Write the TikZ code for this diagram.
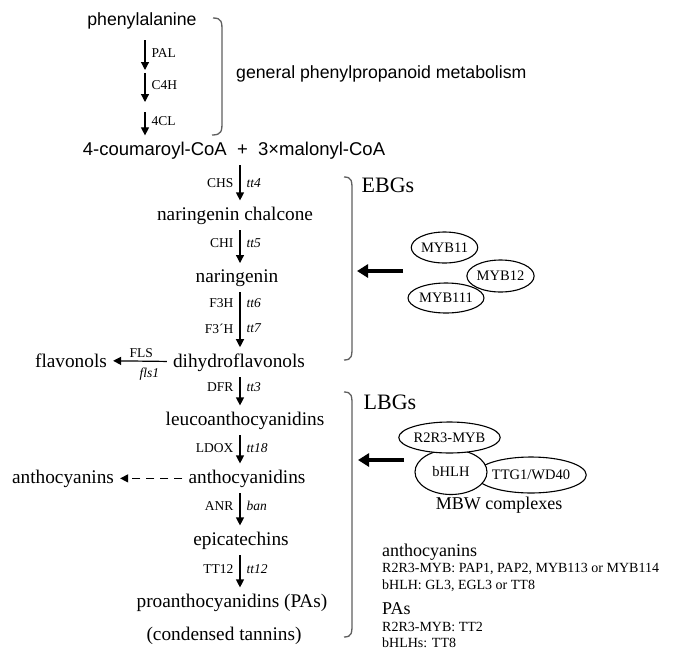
\documentclass[tikz,border=0pt]{standalone}
\usepackage{fontspec}
\setmainfont{Liberation Serif}
\setsansfont{Liberation Sans}
\usetikzlibrary{arrows.meta,shapes.geometric}
\definecolor{fp-gray}{RGB}{95,95,95}

\tikzset{
  met/.style={anchor=base, inner sep=6pt, font=\fontsize{19.3}{23}\selectfont},
  gen/.style={anchor=base, inner sep=6pt, font=\sffamily\fontsize{17.7}{21}\selectfont},
  enz/.style={left=4pt, inner sep=2pt, font=\fontsize{13.5}{16}\selectfont},
  gene/.style={right=4pt, inner sep=2pt, font=\itshape\fontsize{13.5}{16}\selectfont},
  flow/.style={-{Triangle[width=8pt,length=8pt]}, line width=1.2pt},
  tf/.style={ellipse, draw, line width=1.1pt, fill=white, inner sep=0pt, font=\fontsize{14.5}{17}\selectfont},
  reg/.style={-{Triangle[width=13pt,length=11pt]}, line width=4pt},
  brak/.style={fp-gray, line width=1.3pt},
  grp/.style={font=\fontsize{22}{26}\selectfont},
  note/.style={anchor=base west, inner sep=0pt, font=\fontsize{14}{16}\selectfont},
  notehead/.style={anchor=base west, inner sep=0pt, font=\fontsize{18}{21}\selectfont},
}

\begin{document}
\begin{tikzpicture}[x=1pt,y=-1pt]
    \useasboundingbox (0,0) rectangle (675,662);

    % general phenylpropanoid part
    \node[gen] (phe) at (142,25) {phenylalanine};
    \node[gen, anchor=base west] (gpm) at (230,78) {general phenylpropanoid metabolism};
    \node[gen, font=\sffamily\fontsize{18.5}{22}\selectfont] (cou) at (234,155) {4-coumaroyl-CoA \ + \ 3×malonyl-CoA};

    \coordinate (a1) at (145,40);
    \coordinate (a2) at (145,70);
    \coordinate (b1) at (145,73);
    \coordinate (b2) at (145,102);
    \coordinate (c1) at (145,112);
    \draw[flow] (a1) -- node[gene, font=\fontsize{13.5}{16}\selectfont, pos=.45] {PAL} (a2);
    \draw[flow] (b1) -- node[gene, font=\fontsize{13.5}{16}\selectfont, pos=.4] {C4H} (b2);
    \draw[flow] (c1) -- node[gene, font=\fontsize{13.5}{16}\selectfont, pos=.4] {4CL} (cou.north -| c1);

    \draw[brak] (213,18) .. controls (222,18) and (222,22) .. (222,32) -- (222,121) .. controls (222,131) and (222,135) .. (212,135);

    % flavonoid pathway
    \coordinate (col) at (240,0);
    \node[met] (nc) at (235,220) {naringenin chalcone};
    \node[met] (nar) at (237,282) {naringenin};
    \node[met] (dhf) at (239,367) {dihydroflavonols};
    \node[met] (flav) at (71,367) {flavonols};
    \node[met] (leu) at (245,425) {leucoanthocyanidins};
    \node[met] (anc) at (247,483) {anthocyanidins};
    \node[met] (ans) at (63,483) {anthocyanins};
    \node[met] (epi) at (241,545) {epicatechins};
    \node[met] (pas) at (232,607) {proanthocyanidins (PAs)};
    \node[met] (ct) at (224,640) {(condensed tannins)};

    \draw[flow] (cou.south -| col) -- node[enz] {CHS} node[gene] {tt4} (nc.north -| col);
    \draw[flow] (nc.south -| col) -- node[enz, pos=.4] {CHI} node[gene, pos=.4] {tt5} (nar.north -| col);
    \draw[flow] (nar.south -| col) -- node[enz, pos=.2] {F3H} node[gene, pos=.2] {tt6}
        node[enz, pos=.66] {F3´H} node[gene, pos=.66] {tt7} (dhf.north -| col);
    \draw[flow] (dhf) -- node[enz, above=1pt, pos=.4] {FLS} node[gene, below=4pt, pos=.4] {fls1} (flav);
    \draw[flow] (dhf.south -| col) -- node[enz, pos=.35] {DFR} node[gene, pos=.35] {tt3} (leu.north -| col);
    \draw[flow] (leu.south -| col) -- node[enz, pos=.45] {LDOX} node[gene, pos=.45] {tt18} (anc.north -| col);
    \draw[flow, dash pattern=on 8pt off 6pt] (anc) -- (ans);
    \draw[flow] (anc.south -| col) -- node[enz, pos=.4] {ANR} node[gene, pos=.4] {ban} (epi.north -| col);
    \draw[flow] (epi.south -| col) -- node[enz, pos=.42] {TT12} node[gene, pos=.42] {tt12} (pas.north -| col);

    % early biosynthetic genes
    \draw[brak] (344,177) .. controls (352,177) and (352,181) .. (352,191) -- (352,346) .. controls (352,356) and (352,360) .. (344,360);
    \node[grp] (ebg) at (388,185) {EBGs};
    \node[tf, minimum width=63pt, minimum height=31pt] (myb11) at (444.5,247.5) {MYB11};
    \node[tf, minimum width=63pt, minimum height=32pt] (myb12) at (500.5,276) {MYB12};
    \node[tf, minimum width=74pt, minimum height=30pt] (myb111) at (446,298) {MYB111};
    \coordinate (ebg src) at (403,271);
    \coordinate (ebg tip) at (357,271);
    \draw[reg] (ebg src) -- (ebg tip);

    % late biosynthetic genes
    \draw[brak] (344,392) .. controls (352,392) and (352,396) .. (352,406) -- (352,623) .. controls (352,633) and (352,637) .. (344,637);
    \node[grp] (lbg) at (390,402) {LBGs};
    \node[tf, minimum width=92pt, minimum height=36pt] (ttg) at (531,475) {TTG1/WD40};
    \node[tf, minimum width=72pt, minimum height=45pt] (bhlh) at (451,472) {bHLH};
    \node[tf, minimum width=85pt, minimum height=31pt] (r2r3) at (449.5,437.5) {R2R3-MYB};
    \node[font=\fontsize{18}{21}\selectfont] (mbw) at (499,505) {MBW complexes};
    \coordinate (lbg src) at (404,460);
    \coordinate (lbg tip) at (358,460);
    \draw[reg] (lbg src) -- (lbg tip);

    \node[notehead] (n1) at (382,556.5) {anthocyanins};
    \node[note] (n2) at (382,572.5) {R2R3-MYB: PAP1, PAP2, MYB113 or MYB114};
    \node[note] (n3) at (382,589.5) {bHLH: GL3, EGL3 or TT8};
    \node[notehead] (n4) at (382,614) {PAs};
    \node[note] (n5) at (382,631.5) {R2R3-MYB: TT2};
    \node[note] (n6) at (382,647.5) {bHLHs: TT8};
\end{tikzpicture}
\end{document}
